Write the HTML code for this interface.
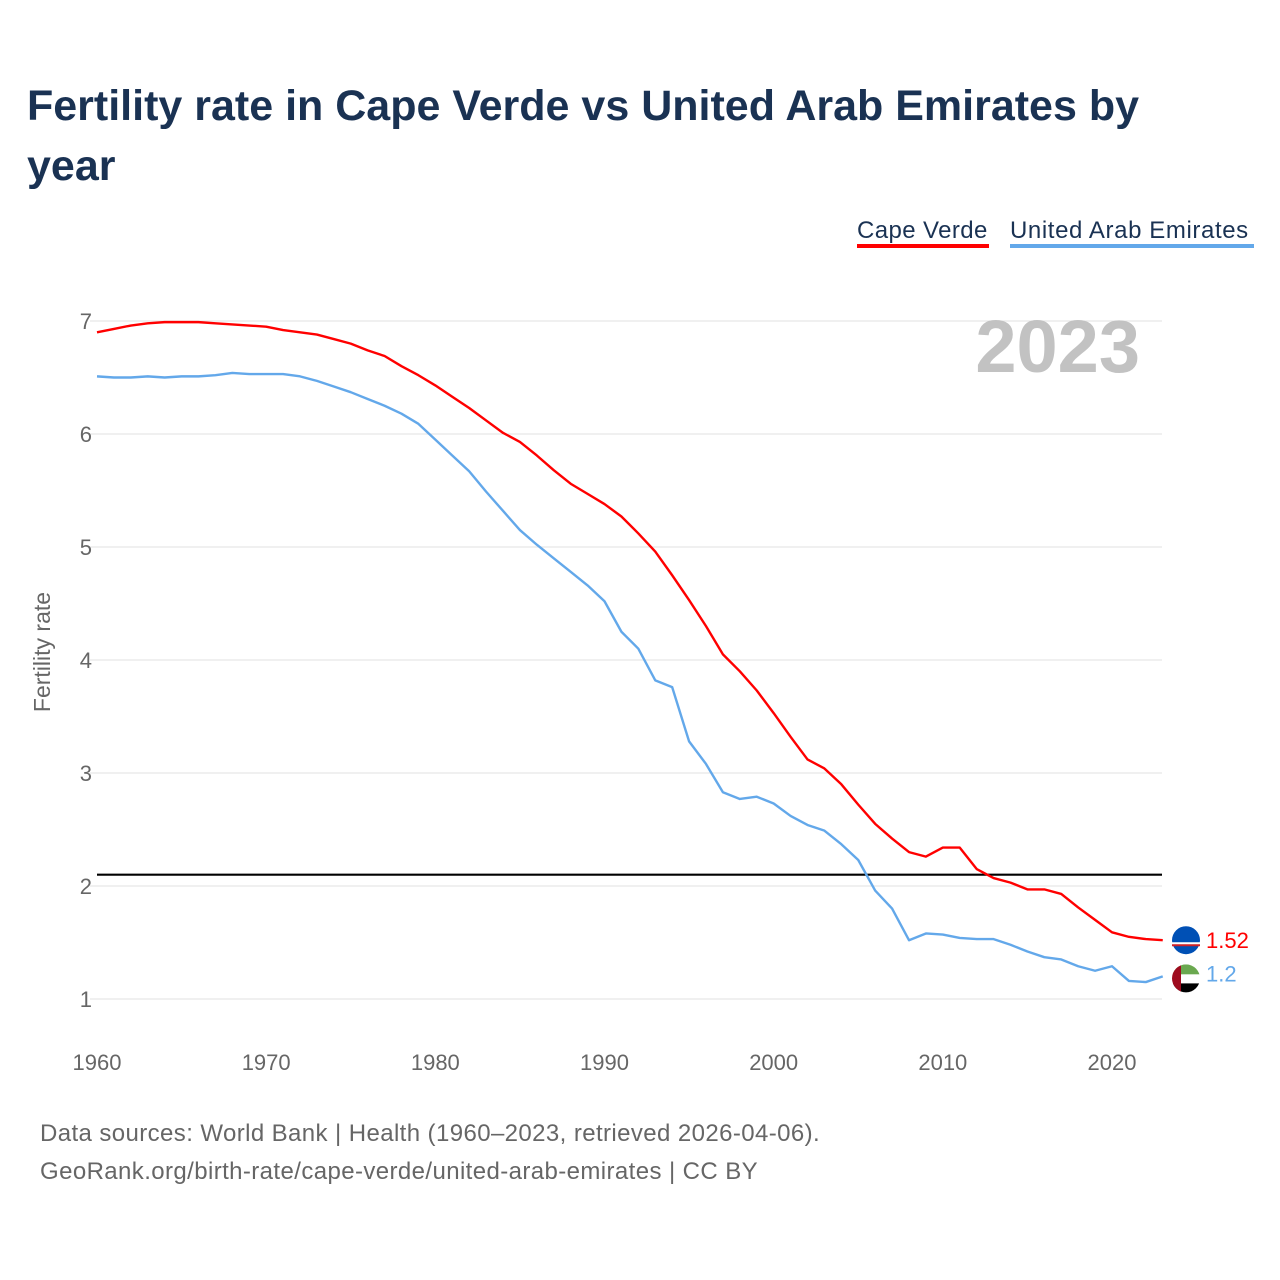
<!DOCTYPE html>
<html><head><meta charset="utf-8"><style>
body{margin:0;background:#fff;font-family:"Liberation Sans",sans-serif;}
#wrap{position:relative;width:1280px;height:1280px;}
h1{position:absolute;left:27px;top:76px;margin:0;width:1160px;font-size:43px;line-height:60px;color:#1a3253;font-weight:bold;letter-spacing:0px}
.src{position:absolute;left:40px;font-size:24px;letter-spacing:0.4px;color:#666}
</style></head><body>
<div id="wrap">
<h1>Fertility rate in Cape Verde vs United Arab Emirates by year</h1>
<svg id="chart" width="1280" height="1280" style="position:absolute;left:0;top:0"></svg>
<div class="src" style="top:1120px">Data sources: World Bank | Health (1960–2023, retrieved 2026-04-06).</div>
<div class="src" style="top:1158px">GeoRank.org/birth-rate/cape-verde/united-arab-emirates | CC BY</div>
</div>
<script>
const years = Array.from({length:64},(_,i)=>1960+i);
const capeVerde = [6.90,6.93,6.96,6.98,6.99,6.99,6.99,6.98,6.97,6.96,6.95,6.92,6.90,6.88,6.84,6.80,6.74,6.69,6.60,6.52,6.43,6.33,6.23,6.12,6.01,5.93,5.81,5.68,5.56,5.47,5.38,5.27,5.12,4.96,4.75,4.53,4.30,4.05,3.90,3.73,3.53,3.32,3.12,3.04,2.90,2.72,2.55,2.42,2.30,2.26,2.34,2.34,2.15,2.07,2.03,1.97,1.97,1.93,1.81,1.70,1.59,1.55,1.53,1.52];
const uae = [6.51,6.50,6.50,6.51,6.50,6.51,6.51,6.52,6.54,6.53,6.53,6.53,6.51,6.47,6.42,6.37,6.31,6.25,6.18,6.09,5.95,5.81,5.67,5.49,5.32,5.15,5.02,4.90,4.78,4.66,4.52,4.25,4.10,3.82,3.76,3.28,3.08,2.83,2.77,2.79,2.73,2.62,2.54,2.49,2.37,2.23,1.96,1.80,1.52,1.58,1.57,1.54,1.53,1.53,1.48,1.42,1.37,1.35,1.29,1.25,1.29,1.16,1.15,1.20];
const yTicks = [1,2,3,4,5,6,7];
const xTicks = [1960,1970,1980,1990,2000,2010,2020];
const refValue = 2.1;
const NS="http://www.w3.org/2000/svg";
const svg=document.getElementById('chart');
const X=y=>97+(y-1960)*(1112-97)/60;
const Y=v=>999-(v-1)*(999-321)/6;
function mk(t,a,p){const e=document.createElementNS(NS,t);for(const k in a)e.setAttribute(k,a[k]);(p||svg).appendChild(e);return e;}
yTicks.forEach(t=>{
  const g=mk('line',{x1:90,x2:1162,y1:Y(t),y2:Y(t),stroke:'#e6e6e6','stroke-width':1.3});
  
  
  const l=mk('text',{x:92,y:Y(t)+8,'text-anchor':'end','font-size':22,fill:'#666','font-family':'Liberation Sans, sans-serif'});
  l.textContent=t;
  
  
});
xTicks.forEach(t=>{
  const l=mk('text',{x:X(t),y:1070,'text-anchor':'middle','font-size':22,fill:'#666','font-family':'Liberation Sans, sans-serif'});
  l.textContent=t;
  
  
});
const yt=mk('text',{transform:'translate(50,652) rotate(-90)','text-anchor':'middle','font-size':23,fill:'#666','font-family':'Liberation Sans, sans-serif'});
yt.textContent='Fertility rate';


const yr=mk('text',{x:1140,y:372,'text-anchor':'end','font-size':74,'font-weight':'bold',fill:'#c2c2c2','font-family':'Liberation Sans, sans-serif'});
yr.textContent='2023';


const ref=mk('line',{x1:97,x2:1162,y1:Y(refValue),y2:Y(refValue),stroke:'#000','stroke-width':2.2});


function series(vals,color,name){
  const p=mk('polyline',{points:vals.map((v,i)=>X(years[i])+','+Y(v)).join(' '),fill:'none',stroke:color,'stroke-width':2.4,'stroke-linejoin':'round'});
  
  
}
series(capeVerde,'#ff0000','cape-verde-line');
series(uae,'#63a8ea','uae-line');
const lastCV=capeVerde[capeVerde.length-1], lastU=uae[uae.length-1];
const cx=1186;
const f1=mk('g',{});


mk('circle',{cx:cx,cy:Y(lastCV),r:14,fill:'#0050b5'},f1);
mk('rect',{x:cx-14,y:Y(lastCV)+2,width:28,height:3,fill:'#fff'},f1);
mk('rect',{x:cx-14,y:Y(lastCV)+4,width:28,height:2,fill:'#cf2027'},f1);
const f2=mk('g',{});


const cy2=Y(lastU)+2;
mk('clipPath',{id:'cp'},svg);
mk('circle',{cx:cx,cy:cy2,r:14},document.getElementById('cp'));
const gg=mk('g',{'clip-path':'url(#cp)'},f2);
mk('rect',{x:cx-14,y:cy2-14,width:28,height:10,fill:'#6aa84f'},gg);
mk('rect',{x:cx-14,y:cy2-4,width:28,height:9,fill:'#fff'},gg);
mk('rect',{x:cx-14,y:cy2+5,width:28,height:10,fill:'#000'},gg);
mk('rect',{x:cx-14,y:cy2-14,width:9,height:28,fill:'#9e0b1e'},gg);
const v1=mk('text',{x:1206,y:Y(lastCV)+8,'font-size':22,fill:'#ff0000','font-family':'Liberation Sans, sans-serif'});
v1.textContent=lastCV.toFixed(2);


const v2=mk('text',{x:1206,y:Y(lastU)+5,'font-size':22,fill:'#63a8ea','font-family':'Liberation Sans, sans-serif'});
v2.textContent=String(lastU);


const lg1=mk('text',{x:857,y:238,'font-size':24,'letter-spacing':0.4,fill:'#1a3253','font-family':'Liberation Sans, sans-serif'});
lg1.textContent='Cape Verde';


mk('rect',{x:857,y:244,width:132,height:4,fill:'#ff0000'});
const lg2=mk('text',{x:1010,y:238,'font-size':24,'letter-spacing':0.6,fill:'#1a3253','font-family':'Liberation Sans, sans-serif'});
lg2.textContent='United Arab Emirates';


mk('rect',{x:1010,y:244,width:244,height:4,fill:'#63a8ea'});
</script>
</body></html>
